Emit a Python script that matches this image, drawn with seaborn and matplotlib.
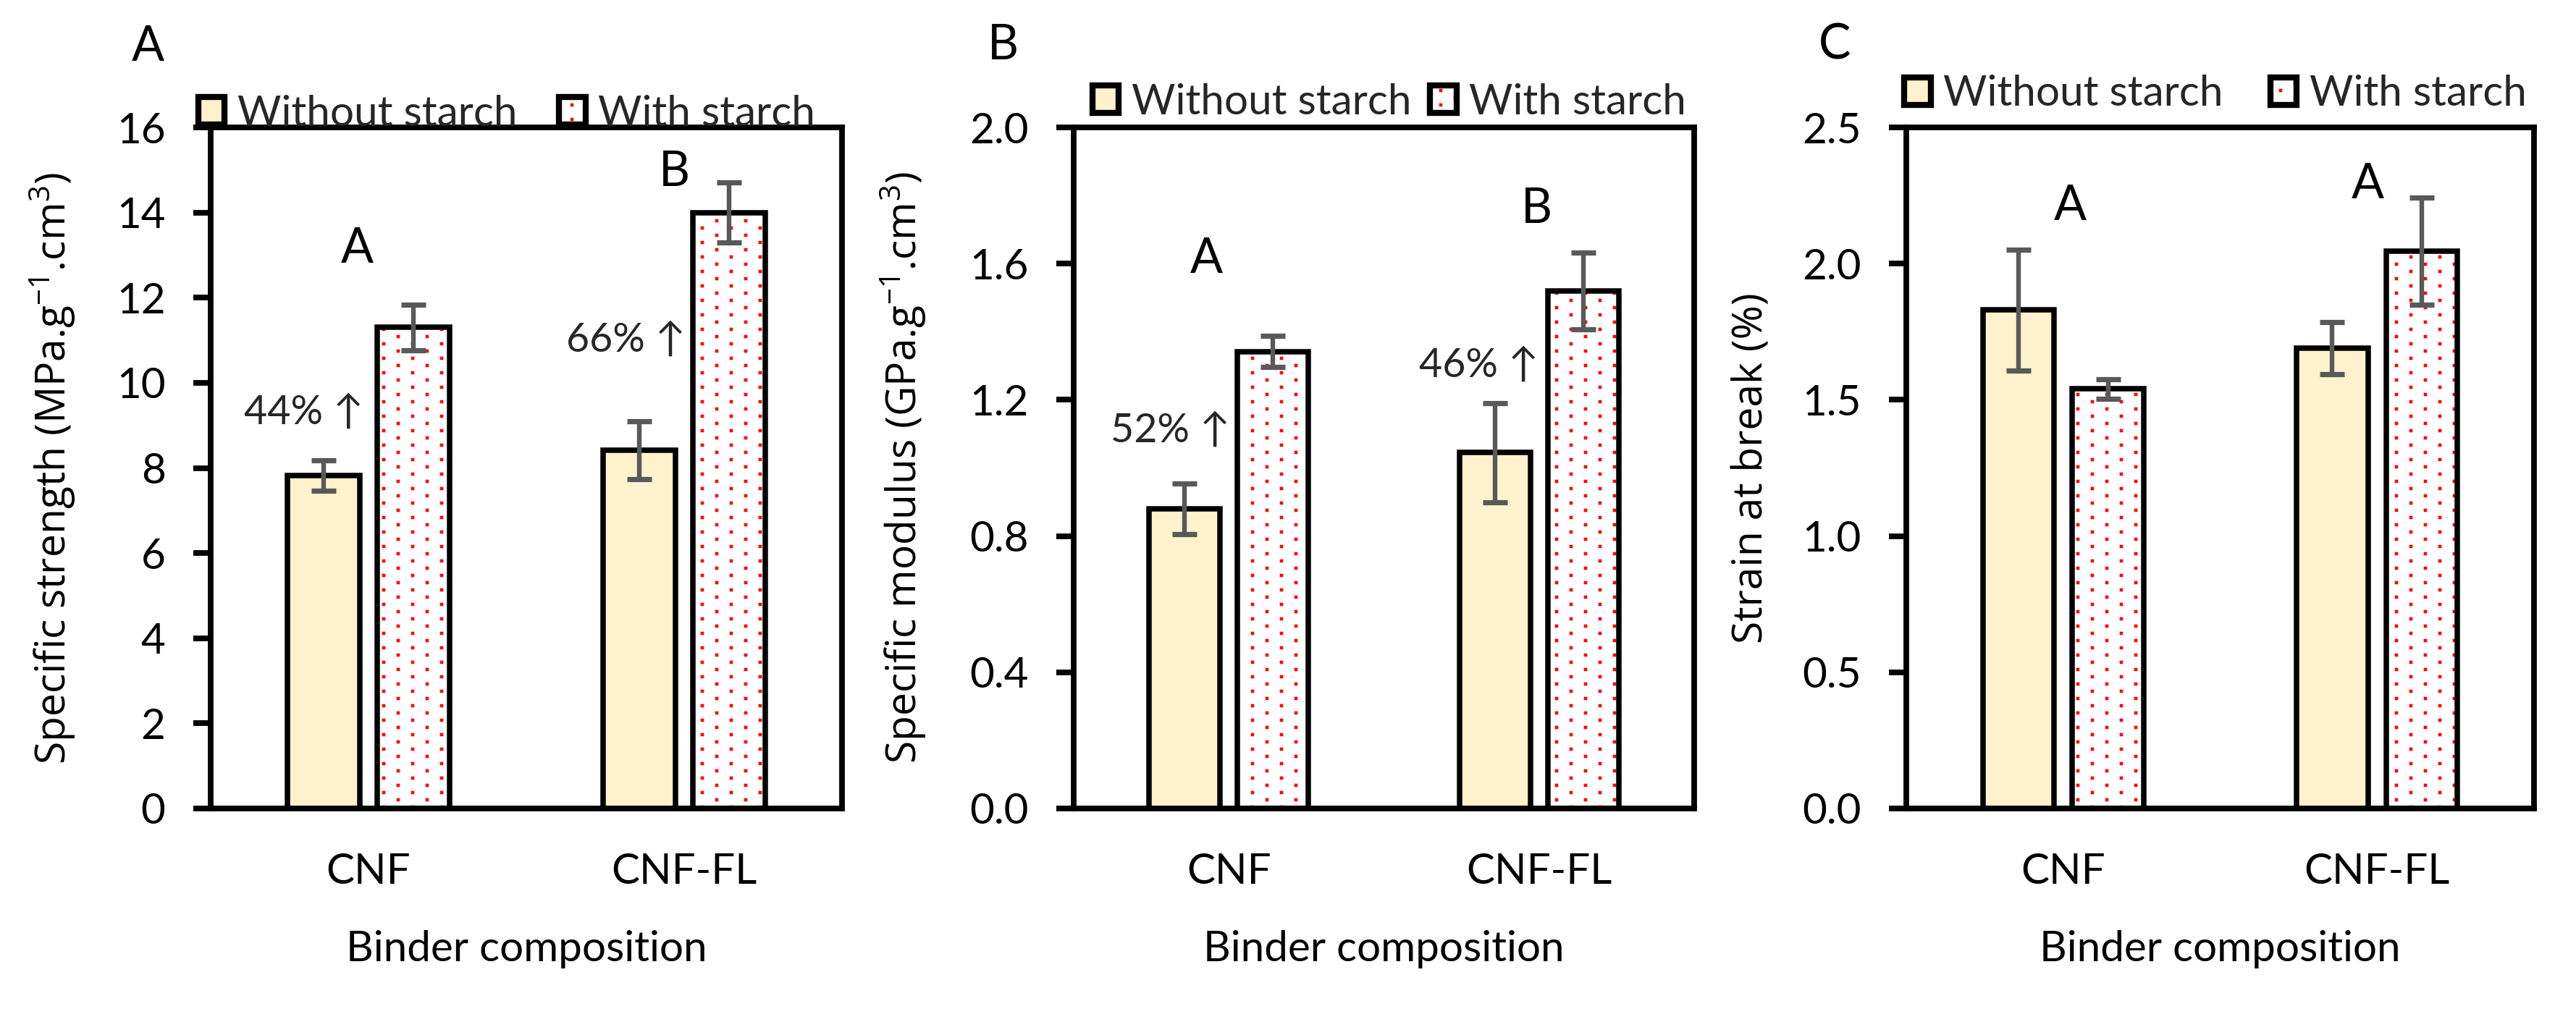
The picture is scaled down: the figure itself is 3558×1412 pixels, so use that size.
import numpy as np
import pandas as pd
import matplotlib
matplotlib.use("Agg")
import matplotlib.pyplot as plt
import matplotlib.hatch as mhatch
import matplotlib.colors as mcolors
from matplotlib.path import Path
from matplotlib.patches import Patch
import seaborn as sns

# ---------------- data ----------------
compositions = ["CNF", "CNF-FL"]
treatments = ["Without starch", "With starch"]

strength_without = [7.82, 8.42]
strength_with = [11.30, 14.00]
strength_err_without = [0.36, 0.68]
strength_err_with = [0.53, 0.70]

modulus_without = [0.88, 1.045]
modulus_with = [1.342, 1.52]
modulus_err_without = [0.075, 0.145]
modulus_err_with = [0.045, 0.113]

strain_without = [1.83, 1.69]
strain_with = [1.54, 2.045]
strain_err_without = [0.222, 0.096]
strain_err_with = [0.035, 0.197]

strength_ticks = [0, 2, 4, 6, 8, 10, 12, 14, 16]
modulus_ticks = [0.0, 0.4, 0.8, 1.2, 1.6, 2.0]
strain_ticks = [0.0, 0.5, 1.0, 1.5, 2.0, 2.5]
strength_ticklabels = ["0", "2", "4", "6", "8", "10", "12", "14", "16"]
modulus_ticklabels = ["0.0", "0.4", "0.8", "1.2", "1.6", "2.0"]
strain_ticklabels = ["0.0", "0.5", "1.0", "1.5", "2.0", "2.5"]

panel_letters = ["A", "B", "C"]
ylabels = [r"Specific strength (MPa.g$^{-1}$.cm$^{3}$)",
           r"Specific modulus (GPa.g$^{-1}$.cm$^{3}$)",
           "Strain at break (%)"]
xlabel = "Binder composition"

# significance letters (text, x, y) and percentage increase labels
sig_strength = [("A", -0.035, 13.15), ("B", 0.968, 14.95)]
sig_modulus = [("A", -0.073, 1.613), ("B", 0.992, 1.76)]
sig_strain = [("A", 0.022, 2.21), ("A", 0.971, 2.29)]
pct_strength = [("44% \u2191", -0.015, 9.29), ("66% \u2191", 1.004, 10.99)]
pct_modulus = [("52% \u2191", 0.004, 1.109), ("46% \u2191", 0.998, 1.301)]
pct_strain = []

# ---------------- style ----------------
sns.set_theme(style="white")
plt.rcParams["font.family"] = ["Lato", "DejaVu Sans"]
plt.rcParams["mathtext.fontset"] = "custom"
plt.rcParams["mathtext.rm"] = "Open Sans"
plt.rcParams["mathtext.it"] = "Open Sans:italic"
plt.rcParams["mathtext.bf"] = "Open Sans:bold"
plt.rcParams["hatch.linewidth"] = 0.5

FILL_WITHOUT = "#FFF2CC"
FILL_WITH = "#FFFFFF"
DOT_RED = "#FF0000"
ERR_GREY = "#595959"
TXT = "black"


# Excel-like stipple: rows of small square dots, alternate rows offset
class Stipple(mhatch.HatchPatternBase):
    def __init__(self, hatch, density):
        self.on = hatch.count(".") > 0
        self.nx = 5
        self.ny = 20
        self.d = 0.008
        self.num_vertices = 5 * self.nx * self.ny if self.on else 0

    def set_vertices_and_codes(self, vertices, codes):
        pts = []
        for j in range(self.ny):
            shift = 0.25 if j % 2 == 0 else 0.75
            y = (j + 0.5) / self.ny
            for i in range(self.nx):
                x = (i + shift) / self.nx
                d = self.d
                pts.extend([(x - d, y - d), (x + d, y - d), (x + d, y + d),
                            (x - d, y + d), (x - d, y - d)])
        vertices[:] = np.array(pts)
        codes[:] = [Path.MOVETO, Path.LINETO, Path.LINETO, Path.LINETO,
                    Path.CLOSEPOLY] * (self.nx * self.ny)


try:
    mhatch._hatch_types = [Stipple if t is mhatch.SmallFilledCircles else t
                           for t in mhatch._hatch_types]
except Exception:
    pass


def set_hatch_red(p):
    p.set_hatch(".")
    try:
        p.set_hatchcolor(DOT_RED)
    except AttributeError:
        p._hatch_color = mcolors.to_rgba(DOT_RED)


W, H, DPI = 3558, 1412, 200
fig = plt.figure(figsize=(W / DPI, H / DPI), dpi=DPI)

top_px, bot_px = 176, 1117
axes_px = [(291, 1163), (1483, 2340), (2633, 3500)]
ylabel_x = [-0.25, -0.274, -0.246]
letter_pos = [(204, 65), (1385, 63), (2534, 63)]
legend_pos = [(700, 157), (1919, 141), (3060, 130)]
legend_colsp = [1.0, 0.45, 1.12]

panels = [
    (strength_without, strength_with, strength_err_without, strength_err_with,
     strength_ticks, strength_ticklabels, 16, sig_strength, pct_strength),
    (modulus_without, modulus_with, modulus_err_without, modulus_err_with,
     modulus_ticks, modulus_ticklabels, 2.0, sig_modulus, pct_modulus),
    (strain_without, strain_with, strain_err_without, strain_err_with,
     strain_ticks, strain_ticklabels, 2.5, sig_strain, pct_strain),
]

for k, (vw, vs, ew, es, ticks, tlabels, ymax, sigs, pcts) in enumerate(panels):
    l, r = axes_px[k]
    ax = fig.add_axes([l / W, 1 - bot_px / H, (r - l) / W, (bot_px - top_px) / H])
    df = pd.DataFrame({
        "Binder composition": compositions * 2,
        "Starch": [treatments[0]] * 2 + [treatments[1]] * 2,
        "value": list(vw) + list(vs),
    })
    sns.barplot(data=df, x="Binder composition", y="value", hue="Starch",
                order=compositions, hue_order=treatments,
                palette=[FILL_WITHOUT, FILL_WITH], saturation=1,
                width=0.57, gap=0.2, edgecolor="black", linewidth=2.7,
                errorbar=None, legend=False, ax=ax, zorder=2)
    for bar in ax.containers[1]:
        set_hatch_red(bar)
    for cont, errs in zip(ax.containers, [ew, es]):
        xs = [b.get_x() + b.get_width() / 2 for b in cont]
        ys = [b.get_height() for b in cont]
        ax.errorbar(xs, ys, yerr=errs, fmt="none", ecolor=ERR_GREY,
                    elinewidth=2.3, capsize=6.2, capthick=2.6, zorder=5)

    ax.set_xlim(-0.5, 1.5)
    ax.set_ylim(0, ymax)
    ax.set_yticks(ticks)
    ax.set_yticklabels(tlabels, fontsize=21, color=TXT)
    ax.set_xticks(range(len(compositions)))
    ax.set_xticklabels(compositions, fontsize=21, color=TXT)
    ax.tick_params(axis="y", which="major", left=True, direction="out",
                   length=8.5, width=2.8, pad=14, color="black")
    ax.tick_params(axis="x", length=0, pad=22)
    for sp in ax.spines.values():
        sp.set_visible(True)
        sp.set_color("black")
        sp.set_linewidth(2.8)
    ax.grid(False)

    ax.set_ylabel(ylabels[k], fontsize=20.5, family=["Open Sans", "DejaVu Sans"],
                  color=TXT)
    ax.yaxis.label.set_va("center")
    ax.yaxis.set_label_coords(ylabel_x[k], 0.5)
    ax.set_xlabel(xlabel, fontsize=21, color=TXT)
    ax.xaxis.label.set_va("top")
    ax.xaxis.set_label_coords(0.5, -0.1785)

    for txt, x, y in sigs:
        ax.text(x, y, txt, ha="center", va="center", fontsize=24, color=TXT,
                zorder=6)
    for txt, x, y in pcts:
        ax.text(x, y, txt, ha="right", va="center", fontsize=20,
                color="#262626", zorder=6)

    handles = [Patch(facecolor=FILL_WITHOUT, edgecolor="black", linewidth=3),
               Patch(facecolor=FILL_WITH, edgecolor="black", linewidth=3)]
    set_hatch_red(handles[1])
    lx, ly = legend_pos[k]
    ax.legend(handles, treatments, loc="center", ncol=2, frameon=False,
              bbox_to_anchor=(lx / W, 1 - ly / H), bbox_transform=fig.transFigure,
              prop={"family": ["Lato", "DejaVu Sans"], "size": 21},
              handlelength=0.62, handleheight=0.65, handletextpad=0.3,
              columnspacing=legend_colsp[k], borderpad=0.2)

    px, py = letter_pos[k]
    fig.text(px / W, 1 - py / H, panel_letters[k], ha="center", va="center",
             fontsize=24, color=TXT)

fig.savefig("out.png", dpi=DPI, facecolor="white")
